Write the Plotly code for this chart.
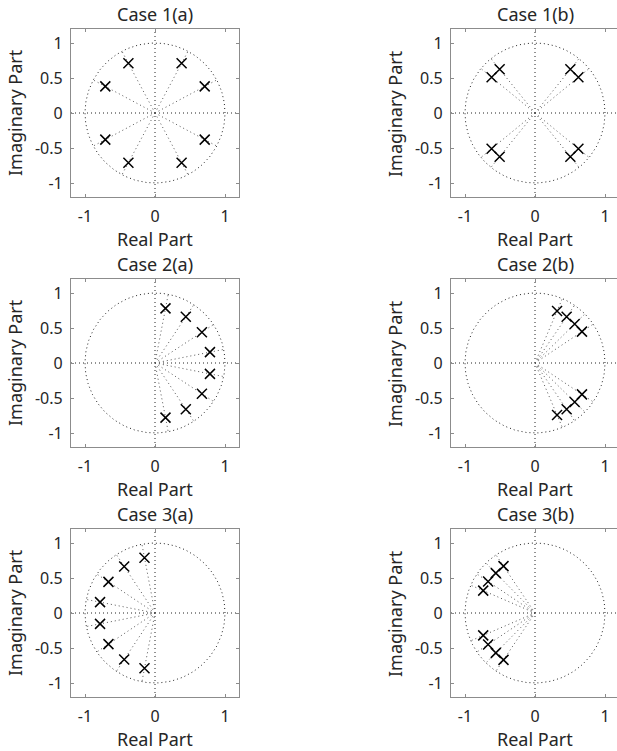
import numpy as np
import plotly.graph_objects as go

# ---- data (poles) ----
titles = ["Case 1(a)", "Case 1(b)", "Case 2(a)", "Case 2(b)", "Case 3(a)", "Case 3(b)"]

case1a_re = [0.38, 0.38, -0.38, -0.38, 0.71, 0.71, -0.71, -0.71]
case1a_im = [0.71, -0.71, 0.71, -0.71, 0.38, -0.38, 0.38, -0.38]

case1b_re = [0.505, 0.505, -0.505, -0.505, 0.62, 0.62, -0.62, -0.62]
case1b_im = [0.624, -0.624, 0.624, -0.624, 0.51, -0.51, 0.51, -0.51]

case2a_re = [0.15, 0.44, 0.67, 0.785, 0.785, 0.67, 0.44, 0.15]
case2a_im = [0.78, 0.66, 0.44, 0.155, -0.155, -0.44, -0.66, -0.78]

case2b_re = [0.315, 0.452, 0.567, 0.671, 0.671, 0.567, 0.452, 0.315]
case2b_im = [0.743, 0.66, 0.557, 0.448, -0.448, -0.557, -0.66, -0.743]

case3a_re = [-0.15, -0.44, -0.665, -0.785, -0.785, -0.665, -0.44, -0.15]
case3a_im = [0.79, 0.665, 0.445, 0.155, -0.155, -0.445, -0.665, -0.79]

case3b_re = [-0.45, -0.56, -0.67, -0.74, -0.74, -0.67, -0.56, -0.45]
case3b_im = [0.67, 0.57, 0.45, 0.32, -0.32, -0.45, -0.57, -0.67]

x_tickvals = [-1, 0, 1]
x_ticktext = ["-1", "0", "1"]
y_tickvals = [-1, -0.5, 0, 0.5, 1]
y_ticktext = ["-1", "-0.5", "0", "0.5", "1"]

cases = [(case1a_re, case1a_im), (case1b_re, case1b_im),
         (case2a_re, case2a_im), (case2b_re, case2b_im),
         (case3a_re, case3a_im), (case3b_re, case3b_im)]

# ---- layout geometry (page body margin removed via post_script) ----
W, H = 617, 751
px_per_unit = 70.0
left_dom = [71 / W, 239 / W]
right_dom = [451 / W, 1.0]
row_tops = [29, 279, 529]
row_h = 168
y_doms = [[1 - (t + row_h) / H, 1 - t / H] for t in row_tops]

TEXT = "#262626"
AXC = "#8c8c8c"
FONT = "Noto Sans"
DOT = "1px,3px"

fig = go.Figure()
annotations = []
theta = np.linspace(0, 2 * np.pi, 361)

for i, (re, im) in enumerate(cases):
    row, col = divmod(i, 2)
    ax = "" if i == 0 else str(i + 1)
    xref, yref = "x" + ax, "y" + ax
    xdom = left_dom if col == 0 else right_dom
    ydom = y_doms[row]
    xmax = -1.2 + (xdom[1] - xdom[0]) * W / px_per_unit

    # zero lines
    fig.add_trace(go.Scatter(x=[-1.2, xmax], y=[0, 0], mode="lines",
                             line=dict(color="#222", width=1, dash=DOT),
                             xaxis=xref, yaxis=yref, showlegend=False, hoverinfo="skip"))
    fig.add_trace(go.Scatter(x=[0, 0], y=[-1.2, 1.2], mode="lines",
                             line=dict(color="#222", width=1, dash=DOT),
                             xaxis=xref, yaxis=yref, showlegend=False, hoverinfo="skip"))
    # unit circle
    fig.add_trace(go.Scatter(x=np.cos(theta), y=np.sin(theta), mode="lines",
                             line=dict(color="#222", width=1, dash=DOT),
                             xaxis=xref, yaxis=yref, showlegend=False, hoverinfo="skip"))
    # rays from origin through each pole to the unit circle
    rx, ry = [], []
    for a, b in zip(re, im):
        r = np.hypot(a, b)
        rx += [0, a / r, None]
        ry += [0, b / r, None]
    fig.add_trace(go.Scatter(x=rx, y=ry, mode="lines",
                             line=dict(color="#555", width=1, dash=DOT),
                             xaxis=xref, yaxis=yref, showlegend=False, hoverinfo="skip"))
    # poles
    fig.add_trace(go.Scatter(x=re, y=im, mode="markers",
                             marker=dict(symbol="x-thin", size=10, color="black",
                                         line=dict(color="black", width=1.5)),
                             xaxis=xref, yaxis=yref, showlegend=False))

    common = dict(showgrid=False, zeroline=False, showline=True, linecolor=AXC,
                  linewidth=1.2, ticks="inside", ticklen=3, tickcolor=AXC,
                  tickfont=dict(family=FONT, size=16, color=TEXT), fixedrange=True)
    fig.update_layout(**{
        "xaxis" + ax: dict(common, domain=xdom, range=[-1.2, xmax], anchor=yref,
                           tickmode="array", tickvals=x_tickvals, ticktext=x_ticktext,
                           mirror="allticks", ticklabelstandoff=5),
        "yaxis" + ax: dict(common, domain=ydom, range=[-1.2, 1.2], anchor=xref,
                           tickmode="array", tickvals=y_tickvals, ticktext=y_ticktext,
                           mirror="allticks" if col == 0 else False,
                           ticklabelstandoff=4),
    })

    xc = (xdom[0] + 168 / W / 2)
    annotations.append(dict(text=titles[i], xref="paper", yref="paper", x=xc, y=ydom[1],
                            xanchor="center", yanchor="middle", yshift=15, showarrow=False,
                            font=dict(family=FONT, size=18, color=TEXT)))
    annotations.append(dict(text="Real Part", xref="paper", yref="paper", x=xc, y=ydom[0],
                            xanchor="center", yanchor="middle", yshift=-42, showarrow=False,
                            font=dict(family=FONT, size=18, color=TEXT)))
    annotations.append(dict(text="Imaginary Part", xref="paper", yref="paper",
                            x=xdom[0], y=(ydom[0] + ydom[1]) / 2, textangle=-90,
                            xanchor="center", yanchor="middle", xshift=-56, showarrow=False,
                            font=dict(family=FONT, size=18, color=TEXT)))

fig.update_layout(width=W, height=H, margin=dict(l=0, r=0, t=0, b=0),
                  paper_bgcolor="white", plot_bgcolor="white",
                  annotations=annotations, hovermode=False)

fig.write_html("out.html",
               config={"displayModeBar": False},
               post_script="document.body.style.margin='0';document.body.style.overflow='hidden';")
